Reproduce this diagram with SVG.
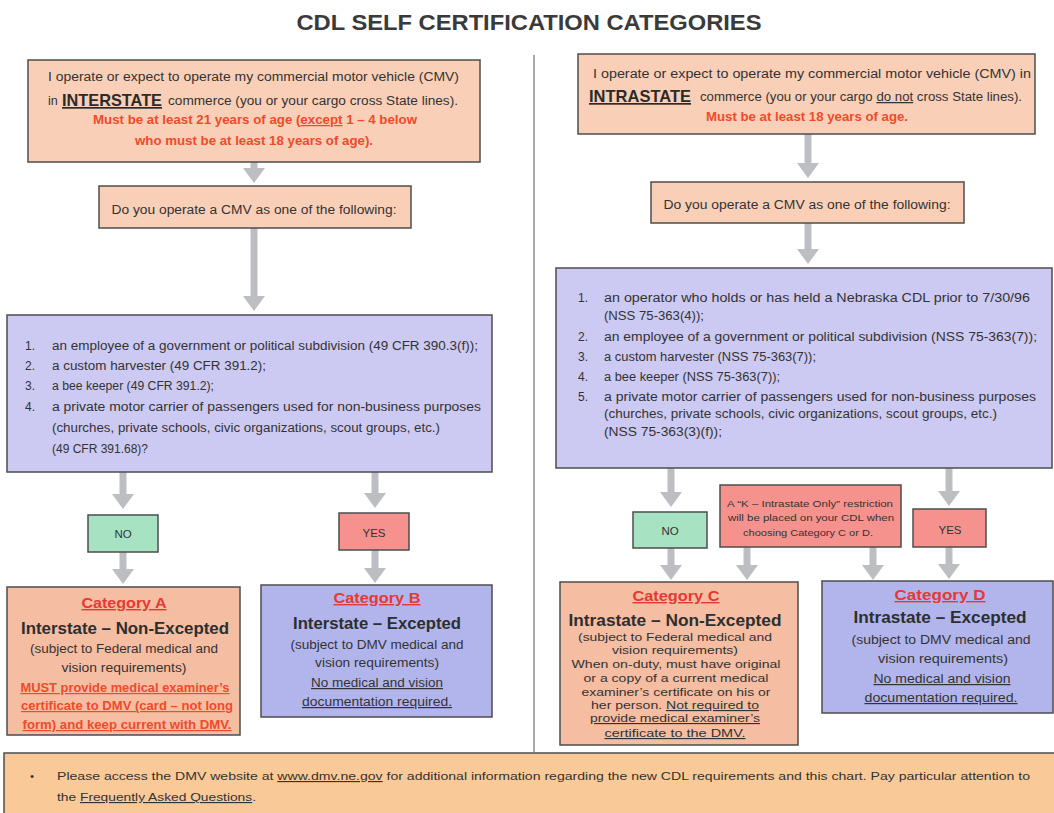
<svg xmlns="http://www.w3.org/2000/svg" width="1054" height="813" viewBox="0 0 1054 813">
<defs>
<style>
text{font-family:"Liberation Sans",Arial,sans-serif;fill:#333;}
.t{font-size:12.5px;}
.s{font-size:12px;}
.xs{font-size:11.5px;}
.k{font-size:9.5px;}
.red{fill:#EE4B2B;font-weight:bold;font-size:12.5px;}
.big{font-weight:bold;font-size:17px;fill:#2b2b2b;text-decoration:underline;}
.cat{font-weight:bold;font-size:14px;fill:#E53935;text-decoration:underline;}
.head{font-weight:bold;font-size:16px;fill:#2e2e2e;}
.must{font-weight:bold;font-size:12px;fill:#EE4B2B;text-decoration:underline;}
.u{text-decoration:underline;}
.c{text-anchor:middle;}
.box{stroke:#4d4d4d;stroke-width:1.5;}
.peach{fill:#F9CFB8;}
.catp{fill:#F5BDA1;}
.lav{fill:#CCC9F2;}
.blue{fill:#B1B5EC;}
.green{fill:#A7E2C3;}
.pink{fill:#F6928D;}
.note{fill:#F9CA98;}
.arr{stroke:#BDBEC2;stroke-width:7;fill:none;}
</style>
<marker id="ah" markerUnits="userSpaceOnUse" viewBox="0 0 15 22" refX="0" refY="11" markerWidth="15" markerHeight="22" orient="auto">
<path d="M0,0 L15,11 L0,22 z" fill="#BDBEC2"/>
</marker>
</defs>
<rect width="1054" height="813" fill="#ffffff"/>

<text x="529" y="30" class="c" style="font-weight:bold;font-size:22px;fill:#3a3a3a" textLength="465" lengthAdjust="spacingAndGlyphs">CDL SELF CERTIFICATION CATEGORIES</text>

<line x1="534" y1="55" x2="534" y2="752" stroke="#A9A9A9" stroke-width="2"/>

<g id="connectors">
<line class="arr" x1="254" y1="162" x2="254" y2="168" marker-end="url(#ah)"/>
<line class="arr" x1="254" y1="228" x2="254" y2="296" marker-end="url(#ah)"/>
<line class="arr" x1="808" y1="133" x2="808" y2="163" marker-end="url(#ah)"/>
<line class="arr" x1="808" y1="223" x2="808" y2="249" marker-end="url(#ah)"/>
<line class="arr" x1="123" y1="472" x2="123" y2="494" marker-end="url(#ah)"/>
<line class="arr" x1="375" y1="472" x2="375" y2="493" marker-end="url(#ah)"/>
<line class="arr" x1="123" y1="552" x2="123" y2="569" marker-end="url(#ah)"/>
<line class="arr" x1="375" y1="550" x2="375" y2="568" marker-end="url(#ah)"/>
<line class="arr" x1="671" y1="468" x2="671" y2="492" marker-end="url(#ah)"/>
<line class="arr" x1="949" y1="468" x2="949" y2="491" marker-end="url(#ah)"/>
<line class="arr" x1="671" y1="548" x2="671" y2="565" marker-end="url(#ah)"/>
<line class="arr" x1="747" y1="547" x2="747" y2="565" marker-end="url(#ah)"/>
<line class="arr" x1="873" y1="547" x2="873" y2="565" marker-end="url(#ah)"/>
<line class="arr" x1="949" y1="547" x2="949" y2="564" marker-end="url(#ah)"/>
</g>

<g id="interstate">
<rect class="box peach" x="28" y="60" width="452" height="102"/>
<text x="48" y="81" class="t" textLength="411" lengthAdjust="spacingAndGlyphs">I operate or expect to operate my commercial motor vehicle (CMV)</text>
<text x="48" y="105" class="t">in</text>
<text x="62" y="106" class="big" textLength="100" lengthAdjust="spacingAndGlyphs">INTERSTATE</text>
<text x="168" y="105" class="t" textLength="290" lengthAdjust="spacingAndGlyphs">commerce (you or your cargo cross State lines).</text>
<text x="93" y="124" class="red" textLength="324" lengthAdjust="spacingAndGlyphs">Must be at least 21 years of age (<tspan class="u">except</tspan> 1 – 4 below</text>
<text x="254" y="145" class="red c" textLength="238" lengthAdjust="spacingAndGlyphs">who must be at least 18 years of age).</text>
</g>

<g id="intrastate">
<rect class="box peach" x="578" y="54" width="457" height="80"/>
<text x="593" y="78" class="t" textLength="438" lengthAdjust="spacingAndGlyphs">I operate or expect to operate my commercial motor vehicle (CMV) in</text>
<text x="589" y="102" class="big" textLength="102" lengthAdjust="spacingAndGlyphs">INTRASTATE</text>
<text x="700" y="101" class="t" textLength="322" lengthAdjust="spacingAndGlyphs">commerce (you or your cargo <tspan class="u">do not</tspan> cross State lines).</text>
<text x="807" y="121" class="red c" textLength="202" lengthAdjust="spacingAndGlyphs">Must be at least 18 years of age.</text>
</g>

<g id="question-left">
<rect class="box peach" x="99" y="186" width="312" height="42"/>
<text x="254" y="214" class="s c" textLength="285" lengthAdjust="spacingAndGlyphs">Do you operate a CMV as one of the following:</text>
</g>

<g id="question-right">
<rect class="box peach" x="651" y="182" width="313" height="41"/>
<text x="807" y="209" class="s c" textLength="287" lengthAdjust="spacingAndGlyphs">Do you operate a CMV as one of the following:</text>
</g>

<g id="list-left">
<rect class="box lav" x="7" y="315" width="485" height="157"/>
<text x="25" y="350" class="s">1.</text>
<text x="52" y="350" class="s" textLength="426" lengthAdjust="spacingAndGlyphs">an employee of a government or political subdivision (49 CFR 390.3(f));</text>
<text x="25" y="370" class="s">2.</text>
<text x="52" y="370" class="s" textLength="214" lengthAdjust="spacingAndGlyphs">a custom harvester (49 CFR 391.2);</text>
<text x="25" y="390" class="s">3.</text>
<text x="52" y="390" class="s" textLength="162" lengthAdjust="spacingAndGlyphs">a bee keeper (49 CFR 391.2);</text>
<text x="25" y="411" class="s">4.</text>
<text x="52" y="411" class="s" textLength="429" lengthAdjust="spacingAndGlyphs">a private motor carrier of passengers used for non-business purposes</text>
<text x="52" y="432" class="s" textLength="388" lengthAdjust="spacingAndGlyphs">(churches, private schools, civic organizations, scout groups, etc.)</text>
<text x="52" y="453" class="s" textLength="96" lengthAdjust="spacingAndGlyphs">(49 CFR 391.68)?</text>
</g>

<g id="list-right">
<rect class="box lav" x="556" y="268" width="496" height="200"/>
<text x="578" y="302" class="s">1.</text>
<text x="604" y="302" class="s" textLength="426" lengthAdjust="spacingAndGlyphs">an operator who holds or has held a Nebraska CDL prior to 7/30/96</text>
<text x="604" y="320" class="s" textLength="100" lengthAdjust="spacingAndGlyphs">(NSS 75-363(4));</text>
<text x="578" y="341" class="s">2.</text>
<text x="604" y="341" class="s" textLength="433" lengthAdjust="spacingAndGlyphs">an employee of a government or political subdivision (NSS 75-363(7));</text>
<text x="578" y="361" class="s">3.</text>
<text x="604" y="361" class="s" textLength="212" lengthAdjust="spacingAndGlyphs">a custom harvester (NSS 75-363(7));</text>
<text x="578" y="381" class="s">4.</text>
<text x="604" y="381" class="s" textLength="176" lengthAdjust="spacingAndGlyphs">a bee keeper (NSS 75-363(7));</text>
<text x="578" y="401" class="s">5.</text>
<text x="604" y="401" class="s" textLength="432" lengthAdjust="spacingAndGlyphs">a private motor carrier of passengers used for non-business purposes</text>
<text x="604" y="418" class="s" textLength="393" lengthAdjust="spacingAndGlyphs">(churches, private schools, civic organizations, scout groups, etc.)</text>
<text x="604" y="436" class="s" textLength="118" lengthAdjust="spacingAndGlyphs">(NSS 75-363(3)(f));</text>
</g>

<g id="no-left">
<rect class="box green" x="88" y="515" width="70" height="37"/>
<text x="123" y="538" class="xs c">NO</text>
</g>
<g id="yes-left">
<rect class="box pink" x="339" y="513" width="70" height="37"/>
<text x="374" y="537" class="xs c">YES</text>
</g>

<g id="no-right">
<rect class="box green" x="633" y="512" width="74" height="36"/>
<text x="670" y="535" class="xs c">NO</text>
</g>
<g id="k-restriction">
<rect class="box pink" x="720" y="485" width="181" height="62"/>
<text x="810" y="507" class="k c" textLength="166" lengthAdjust="spacingAndGlyphs">A “K – Intrastate Only” restriction</text>
<text x="811" y="521" class="k c" textLength="166" lengthAdjust="spacingAndGlyphs">will be placed on your CDL when</text>
<text x="808" y="536" class="k c" textLength="130" lengthAdjust="spacingAndGlyphs">choosing Category C or D.</text>
</g>
<g id="yes-right">
<rect class="box pink" x="913" y="509" width="73" height="38"/>
<text x="950" y="534" class="xs c">YES</text>
</g>

<g id="category-a">
<rect class="box catp" x="7" y="587" width="233" height="148"/>
<text x="124" y="608" class="cat c" textLength="85" lengthAdjust="spacingAndGlyphs">Category A</text>
<text x="125" y="634" class="head c" textLength="208" lengthAdjust="spacingAndGlyphs">Interstate – Non-Excepted</text>
<text x="124" y="653" class="s c" textLength="188" lengthAdjust="spacingAndGlyphs">(subject to Federal medical and</text>
<text x="124" y="672" class="s c" textLength="125" lengthAdjust="spacingAndGlyphs">vision requirements)</text>
<text x="125" y="692" class="must c" textLength="209" lengthAdjust="spacingAndGlyphs">MUST provide medical examiner’s</text>
<text x="127" y="710" class="must c" textLength="212" lengthAdjust="spacingAndGlyphs">certificate to DMV (card – not long</text>
<text x="127" y="729" class="must c" textLength="209" lengthAdjust="spacingAndGlyphs">form) and keep current with DMV.</text>
</g>

<g id="category-b">
<rect class="box blue" x="261" y="585" width="231" height="132"/>
<text x="377" y="603" class="cat c" textLength="87" lengthAdjust="spacingAndGlyphs">Category B</text>
<text x="377" y="629" class="head c" textLength="168" lengthAdjust="spacingAndGlyphs">Interstate – Excepted</text>
<text x="377" y="649" class="s c" textLength="173" lengthAdjust="spacingAndGlyphs">(subject to DMV medical and</text>
<text x="377" y="667" class="s c" textLength="124" lengthAdjust="spacingAndGlyphs">vision requirements)</text>
<text x="377" y="687" class="s c u" textLength="132" lengthAdjust="spacingAndGlyphs">No medical and vision</text>
<text x="377" y="706" class="s c u" textLength="150" lengthAdjust="spacingAndGlyphs">documentation required.</text>
</g>

<g id="category-c">
<rect class="box catp" x="560" y="582" width="238" height="163"/>
<text x="676" y="601" class="cat c" textLength="87" lengthAdjust="spacingAndGlyphs">Category C</text>
<text x="675" y="626" class="head c" textLength="213" lengthAdjust="spacingAndGlyphs">Intrastate – Non-Excepted</text>
<text x="675" y="641" class="xs c" textLength="194" lengthAdjust="spacingAndGlyphs">(subject to Federal medical and</text>
<text x="675" y="654" class="xs c" textLength="126" lengthAdjust="spacingAndGlyphs">vision requirements)</text>
<text x="676" y="668" class="xs c" textLength="209" lengthAdjust="spacingAndGlyphs">When on-duty, must have original</text>
<text x="676" y="682" class="xs c" textLength="185" lengthAdjust="spacingAndGlyphs">or a copy of a current medical</text>
<text x="676" y="696" class="xs c" textLength="189" lengthAdjust="spacingAndGlyphs">examiner’s certificate on his or</text>
<text x="675" y="709" class="xs c" textLength="168" lengthAdjust="spacingAndGlyphs">her person. <tspan class="u">Not required to</tspan></text>
<text x="675" y="722" class="xs c u" textLength="170" lengthAdjust="spacingAndGlyphs">provide medical examiner’s</text>
<text x="675" y="737" class="xs c u" textLength="141" lengthAdjust="spacingAndGlyphs">certificate to the DMV.</text>
</g>

<g id="category-d">
<rect class="box blue" x="822" y="581" width="231" height="132"/>
<text x="940" y="600" class="cat c" textLength="91" lengthAdjust="spacingAndGlyphs">Category D</text>
<text x="940" y="623" class="head c" textLength="173" lengthAdjust="spacingAndGlyphs">Intrastate – Excepted</text>
<text x="941" y="644" class="s c" textLength="179" lengthAdjust="spacingAndGlyphs">(subject to DMV medical and</text>
<text x="943" y="663" class="s c" textLength="130" lengthAdjust="spacingAndGlyphs">vision requirements)</text>
<text x="942" y="683" class="s c u" textLength="137" lengthAdjust="spacingAndGlyphs">No medical and vision</text>
<text x="941" y="702" class="s c u" textLength="153" lengthAdjust="spacingAndGlyphs">documentation required.</text>
</g>

<g id="note">
<rect class="box note" x="4" y="753" width="1052" height="64"/>
<text x="30" y="780" class="xs">•</text>
<text x="57" y="780" class="xs" textLength="973" lengthAdjust="spacingAndGlyphs">Please access the DMV website at <tspan class="u">www.dmv.ne.gov</tspan> for additional information regarding the new CDL requirements and this chart.  Pay particular attention to</text>
<text x="57" y="801" class="xs" textLength="199" lengthAdjust="spacingAndGlyphs">the <tspan class="u">Frequently Asked Questions</tspan>.</text>
</g>
</svg>
